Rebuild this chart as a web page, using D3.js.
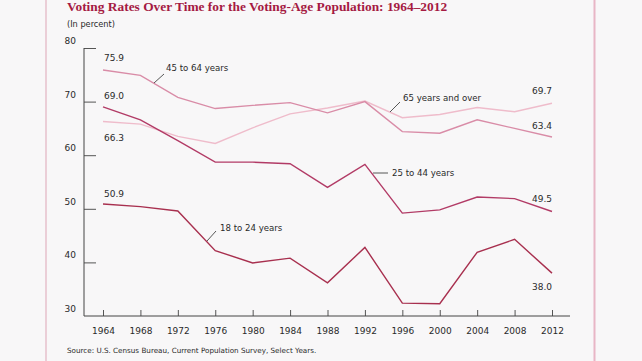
<!DOCTYPE html>
<html lang="en">
<head>
<meta charset="utf-8">
<title>Voting Rates Over Time</title>
<script src="https://cdn.jsdelivr.net/npm/d3@7"></script>
<style>
  body { margin: 0; background: #f8f7f8; }
  text { font-family: "DejaVu Sans", Verdana, sans-serif; fill: #2a2a2a; }
</style>
</head>
<body>
<div id="chart"></div>
<script>
  // data
  const years = [1964, 1968, 1972, 1976, 1980, 1984, 1988, 1992, 1996, 2000, 2004, 2008, 2012];
  const age18to24 = [50.9, 50.4, 49.6, 42.2, 39.9, 40.8, 36.2, 42.8, 32.4, 32.3, 41.9, 44.3, 38.0];
  const age25to44 = [69.0, 66.6, 62.7, 58.7, 58.7, 58.4, 54.0, 58.3, 49.2, 49.8, 52.2, 51.9, 49.5];
  const age45to64 = [75.9, 74.9, 70.8, 68.7, 69.3, 69.8, 67.9, 70.0, 64.4, 64.1, 66.6, 65.0, 63.4];
  const age65plus = [66.3, 65.8, 63.5, 62.2, 65.1, 67.7, 68.8, 70.1, 67.0, 67.6, 68.9, 68.1, 69.7];
  const yTicks = [30, 40, 50, 60, 70, 80];

  const width = 642, height = 361;
  const svg = d3.select('#chart').append('svg').attr('width', width).attr('height', height);

  const x = d3.scaleLinear().domain([1964, 2012]).range([103, 552]);
  const y = d3.scaleLinear().domain([30, 80]).range([316, 48]);

  // frame lines
  svg.append('line').attr('x1', 46).attr('x2', 46).attr('y1', 0).attr('y2', height)
    .attr('stroke', '#e2b3c2').attr('stroke-width', 1.2);
  svg.append('line').attr('x1', 594.5).attr('x2', 594.5).attr('y1', 0).attr('y2', height)
    .attr('stroke', '#e8b6c6').attr('stroke-width', 2);

  // title
  svg.append('text').text('Voting Rates Over Time for the Voting-Age Population: 1964–2012')
    .attr('x', 67).attr('y', 11)
    .style('font-family', '"Liberation Serif", "Times New Roman", serif')
    .style('font-weight', 'bold').style('font-size', '13.4px').style('fill', '#a51a43');
  svg.append('text').text('(In percent)').attr('x', 67).attr('y', 27).style('font-size', '8.2px');

  // y axis
  const yAxis = d3.axisRight(y).tickValues(yTicks.slice(1)).tickSize(12).tickFormat('');
  const gy = svg.append('g').attr('transform', 'translate(84,0)').call(yAxis);
  gy.select('.domain').remove();
  gy.selectAll('.tick line').attr('stroke', '#555');
  svg.append('line').attr('x1', 84).attr('x2', 84).attr('y1', y(80)).attr('y2', y(30))
    .attr('stroke', '#444').attr('stroke-width', 1);
  svg.selectAll('text.ylab').data(yTicks).enter().append('text')
    .classed('ylab', true).text(d => d)
    .attr('x', 76).attr('y', d => y(d) - 4)
    .attr('text-anchor', 'end').style('font-size', '9px');

  // x axis
  const xAxis = d3.axisBottom(x).tickValues(years).tickSizeInner(-6).tickSizeOuter(0)
    .tickPadding(12).tickFormat(d3.format('d'));
  const gx = svg.append('g').attr('transform', `translate(0,${y(30)})`).call(xAxis);
  gx.select('.domain').remove();
  gx.selectAll('.tick line').attr('stroke', '#555');
  gx.selectAll('.tick text').style('font-size', '9px').style('font-family', '"DejaVu Sans", sans-serif').attr('fill', '#2a2a2a');
  svg.append('line').attr('x1', 84).attr('x2', 570).attr('y1', y(30)).attr('y2', y(30))
    .attr('stroke', '#444').attr('stroke-width', 1);

  // lines
  const series = [
    { name: '65 years and over', values: age65plus, color: '#efbccb' },
    { name: '45 to 64 years', values: age45to64, color: '#d98ca7' },
    { name: '25 to 44 years', values: age25to44, color: '#b23b66' },
    { name: '18 to 24 years', values: age18to24, color: '#a8304f' }
  ];
  const line = d3.line().x((d, i) => x(years[i])).y(d => y(d));
  svg.selectAll('path.series').data(series).enter().append('path')
    .classed('series', true)
    .attr('d', d => line(d.values))
    .attr('fill', 'none').attr('stroke', d => d.color).attr('stroke-width', 1.4);

  // end value labels
  const fmt = d3.format('.1f');
  const endLabels = [
    { v: age45to64[0], year: 1964, dy: -9, anchor: 'start' },
    { v: age25to44[0], year: 1964, dy: -8, anchor: 'start' },
    { v: age65plus[0], year: 1964, dy: 20, anchor: 'start' },
    { v: age18to24[0], year: 1964, dy: -7, anchor: 'start' },
    { v: age65plus[12], year: 2012, dy: -9, anchor: 'end' },
    { v: age45to64[12], year: 2012, dy: -8, anchor: 'end' },
    { v: age25to44[12], year: 2012, dy: -9, anchor: 'end' },
    { v: age18to24[12], year: 2012, dy: 17, anchor: 'end' }
  ];
  svg.selectAll('text.endlab').data(endLabels).enter().append('text')
    .classed('endlab', true).text(d => fmt(d.v))
    .attr('x', d => x(d.year) + (d.anchor === 'start' ? 1 : 0))
    .attr('y', d => y(d.v) + d.dy)
    .attr('text-anchor', d => d.anchor).style('font-size', '9px');

  // series labels with leader lines
  const callouts = [
    { text: '45 to 64 years', tx: 166, ty: 71, l: [154, 83, 164, 74] },
    { text: '65 years and over', tx: 403, ty: 101, l: [390, 112, 400, 102] },
    { text: '25 to 44 years', tx: 392, ty: 176, l: [373, 173, 388, 173] },
    { text: '18 to 24 years', tx: 220, ty: 231, l: [207, 241, 216, 231] }
  ];
  callouts.forEach(c => {
    svg.append('line').attr('x1', c.l[0]).attr('y1', c.l[1]).attr('x2', c.l[2]).attr('y2', c.l[3])
      .attr('stroke', '#444').attr('stroke-width', 0.9);
    svg.append('text').text(c.text).attr('x', c.tx).attr('y', c.ty).style('font-size', '8.6px');
  });

  svg.append('text').text('Source: U.S. Census Bureau, Current Population Survey, Select Years.')
    .attr('x', 67).attr('y', 353).style('font-size', '7.2px');
</script>
</body>
</html>
